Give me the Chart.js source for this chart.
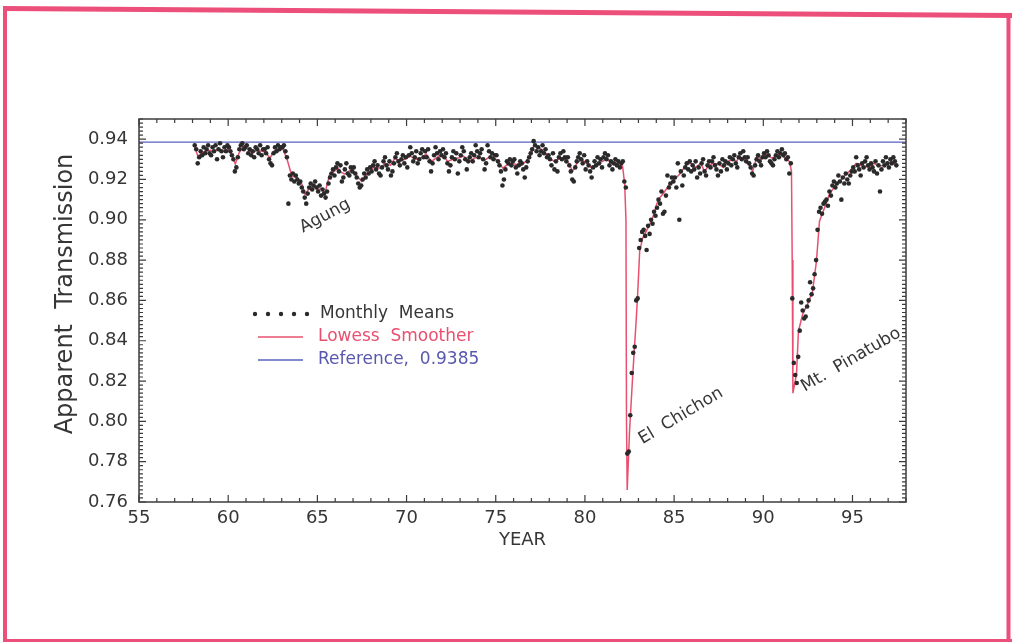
<!DOCTYPE html>
<html>
<head>
<meta charset="utf-8">
<script src="https://cdn.jsdelivr.net/npm/chart.js@4.4.1/dist/chart.umd.min.js"></script>
<style>
  html, body { margin: 0; padding: 0; background: #fff; }
  #chart { display: block; }
</style>
</head>
<body>
<canvas id="chart" width="1012" height="642"></canvas>
<script>
/*********************************************************************/
/*****************************  Data  ********************************/
/*********************************************************************/
// monthly means, Jan..Dec of each year, one row per year
var means1958to1967 = [
    null, 0.937, 0.935, 0.928, 0.931, 0.934, 0.932, 0.936, 0.933, 0.935, 0.937, 0.933,
    0.932, 0.936, 0.934, 0.937, 0.930, 0.935, 0.938, 0.934, 0.931, 0.936, 0.934, 0.937,
    0.936, 0.934, 0.932, 0.930, 0.924, 0.926, 0.931, 0.935, 0.937, 0.938, 0.935, 0.936,
    0.937, 0.933, 0.935, 0.932, 0.934, 0.931, 0.936, 0.935, 0.933, 0.937, 0.932, 0.935,
    0.935, 0.933, 0.936, 0.930, 0.928, 0.927, 0.933, 0.936, 0.934, 0.937, 0.935, 0.936,
    0.936, 0.937, 0.934, 0.931, 0.908, 0.922, 0.920, 0.923, 0.919, 0.922, 0.920, 0.918,
    0.919, 0.916, 0.914, 0.911, 0.908, 0.913, 0.916, 0.918, 0.915, 0.917, 0.919, 0.916,
    0.914, 0.917, 0.912, 0.915, 0.913, 0.911, 0.914, 0.918, 0.921, 0.923, 0.925, 0.922,
    0.926, 0.928, 0.924, 0.927, 0.919, 0.921, 0.925, 0.928, 0.923, 0.922, 0.926, 0.924,
    0.926, 0.923, 0.921, 0.918, 0.916, 0.917, 0.920, 0.923, 0.921, 0.925, 0.923, 0.926
];
var means1968to1977 = [
    0.924, 0.927, 0.929, 0.925, 0.927, 0.923, 0.922, 0.926, 0.929, 0.931, 0.927, 0.925,
    0.929, 0.922, 0.924, 0.928, 0.931, 0.933, 0.929, 0.927, 0.930, 0.932, 0.928, 0.931,
    0.926, 0.932, 0.936, 0.933, 0.929, 0.931, 0.934, 0.928, 0.930, 0.933, 0.935, 0.931,
    0.934, 0.931, 0.935, 0.929, 0.924, 0.928, 0.932, 0.936, 0.933, 0.930, 0.934, 0.932,
    0.935, 0.931, 0.933, 0.928, 0.924, 0.927, 0.931, 0.934, 0.930, 0.933, 0.923, 0.929,
    0.932, 0.936, 0.934, 0.930, 0.925, 0.929, 0.931, 0.933, 0.929, 0.932, 0.937, 0.934,
    0.931, 0.933, 0.935, 0.930, 0.925, 0.928, 0.937, 0.934, 0.931, 0.933, 0.930, 0.932,
    0.932, 0.929, 0.927, 0.924, 0.917, 0.920, 0.925, 0.929, 0.928, 0.930, 0.927, 0.929,
    0.930, 0.926, 0.923, 0.927, 0.929, 0.928, 0.925, 0.921, 0.926, 0.929, 0.931, 0.933,
    0.935, 0.939, 0.937, 0.934, 0.936, 0.932, 0.934, 0.937, 0.933, 0.935, 0.931, 0.932
];
var means1978to1987 = [
    0.930, 0.927, 0.933, 0.925, 0.929, 0.924, 0.931, 0.933, 0.930, 0.934, 0.931, 0.929,
    0.931, 0.927, 0.924, 0.920, 0.919, 0.926, 0.929, 0.931, 0.933, 0.930, 0.928, 0.932,
    0.925, 0.929, 0.927, 0.924, 0.921, 0.926, 0.929, 0.927, 0.931, 0.928, 0.930, 0.926,
    0.931, 0.933, 0.930, 0.932, 0.927, 0.929, 0.925, 0.928, 0.930, 0.927, 0.929, 0.926,
    0.928, 0.929, 0.919, 0.916, 0.784, 0.785, 0.803, 0.824, 0.834, 0.837, 0.860, 0.861,
    0.886, 0.890, 0.894, 0.895, 0.892, 0.885, 0.897, 0.893, 0.900, 0.898, 0.904, 0.902,
    0.906, 0.910, 0.908, 0.914, 0.903, 0.904, 0.912, 0.922, 0.916, 0.918, 0.921, 0.919,
    0.921, 0.916, 0.928, 0.900, 0.924, 0.917, 0.922, 0.926, 0.928, 0.925, 0.929, 0.924,
    0.927, 0.925, 0.929, 0.921, 0.926, 0.923, 0.928, 0.930, 0.924, 0.922, 0.927, 0.929,
    0.926, 0.929, 0.931, 0.927, 0.925, 0.922, 0.928, 0.924, 0.930, 0.927, 0.929, 0.925
];
var means1988to1997 = [
    0.928, 0.931, 0.927, 0.930, 0.932, 0.928, 0.926, 0.931, 0.933, 0.930, 0.934, 0.931,
    0.929, 0.931, 0.928, 0.926, 0.923, 0.922, 0.927, 0.930, 0.932, 0.929, 0.927, 0.931,
    0.933, 0.931, 0.934, 0.932, 0.929, 0.928, 0.927, 0.930, 0.932, 0.934, 0.931, 0.933,
    0.935, 0.932, 0.933, 0.930, 0.931, 0.923, 0.928, 0.861, 0.829, 0.823, 0.819, 0.832,
    0.845, 0.859, 0.855, 0.851, 0.852, 0.857, 0.860, 0.869, 0.863, 0.866, 0.873, 0.880,
    0.895, 0.904, 0.906, 0.903, 0.908, 0.909, 0.910, 0.907, 0.914, 0.912, 0.917, 0.919,
    0.916, 0.918, 0.922, 0.919, 0.910, 0.921, 0.918, 0.923, 0.920, 0.918, 0.922, 0.924,
    0.926, 0.924, 0.931, 0.927, 0.925, 0.922, 0.928, 0.926, 0.929, 0.931, 0.927, 0.925,
    0.928, 0.926, 0.924, 0.929, 0.923, 0.927, 0.914, 0.925, 0.929, 0.927, 0.931, 0.928,
    0.926, 0.930, 0.928, 0.931, 0.929, 0.927
];

// lowess smoother, [year (19xx), transmission]
var lowessCurve = [
    [58.10, 0.9365], [58.30, 0.9316], [58.50, 0.9330], [58.70, 0.9340], [59.00, 0.9345],
    [59.20, 0.9335], [59.45, 0.9355], [59.70, 0.9340], [60.00, 0.9350], [60.20, 0.9320],
    [60.40, 0.9276], [60.60, 0.9330], [60.85, 0.9365], [61.10, 0.9350], [61.35, 0.9330],
    [61.60, 0.9345], [61.90, 0.9340], [62.10, 0.9335], [62.35, 0.9306], [62.55, 0.9340],
    [62.75, 0.9350], [63.07, 0.9350], [63.30, 0.9300], [63.57, 0.9217], [63.85, 0.9210],
    [64.13, 0.9177], [64.30, 0.9127], [64.50, 0.9150], [64.70, 0.9167], [65.03, 0.9150],
    [65.25, 0.9155], [65.42, 0.9130], [65.70, 0.9230], [65.95, 0.9240], [66.15, 0.9256],
    [66.35, 0.9235], [66.54, 0.9226], [66.75, 0.9240], [66.93, 0.9250], [67.20, 0.9220],
    [67.49, 0.9190], [67.70, 0.9220], [67.94, 0.9240], [68.15, 0.9260], [68.50, 0.9256],
    [68.80, 0.9280], [69.10, 0.9270], [69.35, 0.9306], [69.60, 0.9290], [69.90, 0.9300],
    [70.20, 0.9316], [70.50, 0.9300], [70.80, 0.9306], [71.10, 0.9326], [71.40, 0.9290],
    [71.70, 0.9310], [72.00, 0.9326], [72.30, 0.9290], [72.60, 0.9300], [72.90, 0.9306],
    [73.20, 0.9316], [73.50, 0.9290], [73.80, 0.9306], [74.10, 0.9310], [74.40, 0.9296],
    [74.70, 0.9316], [75.00, 0.9300], [75.20, 0.9280], [75.40, 0.9256], [75.60, 0.9270],
    [75.80, 0.9280], [76.10, 0.9276], [76.40, 0.9270], [76.70, 0.9290], [77.00, 0.9326],
    [77.15, 0.9375], [77.30, 0.9360], [77.55, 0.9350], [77.80, 0.9330], [78.10, 0.9300],
    [78.30, 0.9290], [78.60, 0.9305], [78.87, 0.9300], [79.10, 0.9280], [79.31, 0.9240],
    [79.55, 0.9280], [79.82, 0.9300], [80.10, 0.9280], [80.38, 0.9256], [80.55, 0.9270],
    [80.71, 0.9280], [81.00, 0.9290], [81.22, 0.9306], [81.40, 0.9290], [81.55, 0.9276],
    [81.80, 0.9280], [81.95, 0.9276], [82.11, 0.9266], [82.23, 0.9177], [82.30, 0.9000],
    [82.33, 0.8000], [82.37, 0.7660], [82.50, 0.7950], [82.68, 0.8230], [82.87, 0.8497],
    [82.95, 0.8620], [83.07, 0.8845], [83.24, 0.8910], [83.45, 0.8945], [83.63, 0.8978],
    [83.80, 0.9010], [84.02, 0.9077], [84.20, 0.9110], [84.36, 0.9127], [84.55, 0.9150],
    [84.75, 0.9177], [85.00, 0.9200], [85.31, 0.9226], [85.50, 0.9250], [85.70, 0.9276],
    [85.95, 0.9280], [86.20, 0.9260], [86.50, 0.9280], [86.70, 0.9240], [86.95, 0.9270],
    [87.20, 0.9280], [87.50, 0.9276], [87.75, 0.9260], [88.00, 0.9290], [88.30, 0.9300],
    [88.50, 0.9290], [88.67, 0.9316], [88.90, 0.9300], [89.15, 0.9280], [89.40, 0.9240],
    [89.65, 0.9316], [89.90, 0.9300], [90.10, 0.9330], [90.30, 0.9316], [90.50, 0.9306],
    [90.75, 0.9320], [91.00, 0.9330], [91.20, 0.9306], [91.47, 0.9290], [91.58, 0.9240],
    [91.62, 0.8800], [91.66, 0.8140], [91.86, 0.8234], [91.97, 0.8447], [92.20, 0.8530],
    [92.48, 0.8581], [92.76, 0.8645], [92.98, 0.8795], [93.15, 0.8993], [93.43, 0.9058],
    [93.71, 0.9127], [94.10, 0.9177], [94.44, 0.9206], [94.70, 0.9230], [95.00, 0.9256],
    [95.20, 0.9280], [95.39, 0.9276], [95.60, 0.9260], [95.95, 0.9266], [96.20, 0.9280],
    [96.51, 0.9266], [96.70, 0.9270], [96.90, 0.9276], [97.20, 0.9290], [97.46, 0.9266]
];

var referenceValue = 0.9385;
var xTickValues = [55, 60, 65, 70, 75, 80, 85, 90, 95];
var yTickValues = [0.76, 0.78, 0.80, 0.82, 0.84, 0.86, 0.88, 0.90, 0.92, 0.94];
var legendLabels = ['Monthly  Means', 'Lowess  Smoother', 'Reference,  0.9385'];
var volcanoLabels = ['Agung', 'El  Chichon', 'Mt.  Pinatubo'];

/*********************************************************************/
var FONT = "'DejaVu Sans', sans-serif";
var TEXT = '#363636';
var RED = '#e9506f';
var BLUE = '#5a62c2';

function monthlyPoints(firstYear, values) {
    var pts = [];
    for (i = 0; i < values.length; i++) {
        if (values[i] === null) continue;
        pts.push({x: firstYear - 1900 + (i + 0.5) / 12, y: values[i]});
    }
    return pts;
}

var meanPoints = [].concat(
    monthlyPoints(1958, means1958to1967),
    monthlyPoints(1968, means1968to1977),
    monthlyPoints(1978, means1978to1987),
    monthlyPoints(1988, means1988to1997)
);
var lowessPoints = lowessCurve.map(function(p) { return {x: p[0], y: p[1]}; });

/****************************  Decorations  **************************/
var decor = {
    id: 'decor',
    beforeDraw: function(chart) {
        var ctx = chart.ctx;
        ctx.save();
        ctx.fillStyle = '#fff';
        ctx.fillRect(0, 0, chart.width, chart.height);
        // pink page border
        ctx.strokeStyle = '#ec4f7a';
        ctx.lineWidth = 5;
        ctx.beginPath(); ctx.moveTo(3, 8.5); ctx.lineTo(1012, 15.5); ctx.stroke();
        ctx.lineWidth = 4;
        ctx.beginPath(); ctx.moveTo(5, 7); ctx.lineTo(5, 642); ctx.stroke();
        ctx.beginPath(); ctx.moveTo(1008.5, 13); ctx.lineTo(1008.5, 642); ctx.stroke();
        ctx.lineWidth = 3;
        ctx.beginPath(); ctx.moveTo(3, 640.5); ctx.lineTo(1012, 640.5); ctx.stroke();
        ctx.restore();
    },
    afterDatasetsDraw: function(chart) {
        var ctx = chart.ctx, a = chart.chartArea;
        var xs = chart.scales.x, ys = chart.scales.y;
        ctx.save();
        ctx.strokeStyle = '#3c3c3c';
        ctx.lineWidth = 1.5;
        ctx.strokeRect(a.left, a.top, a.right - a.left, a.bottom - a.top);
        ctx.lineWidth = 1.2;
        ctx.beginPath();
        // year ticks, inward on top and bottom
        for (var yr = 55; yr <= 98; yr++) {
            var px = xs.getPixelForValue(yr);
            var len = yr % 5 === 0 ? 7 : 4;
            ctx.moveTo(px, a.bottom); ctx.lineTo(px, a.bottom - len);
            ctx.moveTo(px, a.top); ctx.lineTo(px, a.top + len);
        }
        // 0.002 ticks, inward on left and right
        for (var k = 380; k <= 475; k++) {
            var py = ys.getPixelForValue(k / 500);
            var l2 = k % 10 === 0 ? 7 : 4;
            ctx.moveTo(a.left, py); ctx.lineTo(a.left + l2, py);
            ctx.moveTo(a.right, py); ctx.lineTo(a.right - l2, py);
        }
        ctx.stroke();
        ctx.restore();
    },
    afterDraw: function(chart) {
        var ctx = chart.ctx;
        ctx.save();
        // y axis title
        ctx.fillStyle = TEXT;
        ctx.font = '24px ' + FONT;
        ctx.textAlign = 'center';
        ctx.textBaseline = 'middle';
        ctx.translate(66, 294);
        ctx.rotate(-Math.PI / 2);
        ctx.fillText('Apparent  Transmission', 0, 0);
        ctx.restore();

        // legend
        ctx.save();
        ctx.font = '17px ' + FONT;
        ctx.textAlign = 'left';
        ctx.textBaseline = 'middle';
        ctx.fillStyle = '#2a2a2a';
        for (var d = 0; d < 5; d++) {
            ctx.beginPath();
            ctx.arc(255 + d * 13, 314, 2.2, 0, Math.PI * 2);
            ctx.fill();
        }
        ctx.fillStyle = TEXT;
        ctx.fillText(legendLabels[0], 320, 314);
        ctx.lineWidth = 1.5;
        ctx.strokeStyle = RED;
        ctx.beginPath(); ctx.moveTo(258, 337); ctx.lineTo(303, 337); ctx.stroke();
        ctx.fillStyle = RED;
        ctx.fillText(legendLabels[1], 318, 337);
        ctx.strokeStyle = BLUE;
        ctx.beginPath(); ctx.moveTo(258, 360); ctx.lineTo(303, 360); ctx.stroke();
        ctx.fillStyle = '#5858ae';
        ctx.fillText(legendLabels[2], 318, 360);
        ctx.restore();

        // volcano names
        var spots = [[325, 216, -28], [681, 416, -31], [851, 360, -30]];
        for (var v = 0; v < volcanoLabels.length; v++) {
            ctx.save();
            ctx.font = '17px ' + FONT;
            ctx.fillStyle = TEXT;
            ctx.textAlign = 'center';
            ctx.textBaseline = 'middle';
            ctx.translate(spots[v][0], spots[v][1]);
            ctx.rotate(spots[v][2] * Math.PI / 180);
            ctx.fillText(volcanoLabels[v], 0, 0);
            ctx.restore();
        }
    }
};

/****************************  Chart  ********************************/
var ctx = document.getElementById('chart');
var transmissionChart = new Chart(ctx, {
    type: 'scatter',
    data: {
        datasets: [{
            label: 'Monthly Means',
            data: meanPoints,
            backgroundColor: '#2a2a2a',
            borderColor: '#2a2a2a',
            pointRadius: 2.3,
            pointBorderWidth: 0,
            showLine: false
        }, {
            label: 'Lowess Smoother',
            data: lowessPoints,
            borderColor: RED,
            borderWidth: 1.5,
            pointRadius: 0,
            showLine: true,
            tension: 0
        }, {
            label: 'Reference, 0.9385',
            data: [{x: 55, y: referenceValue}, {x: 98, y: referenceValue}],
            borderColor: BLUE,
            borderWidth: 1.3,
            pointRadius: 0,
            showLine: true
        }]
    },
    options: {
        responsive: false,
        animation: false,
        devicePixelRatio: 1,
        layout: { padding: { left: 0, top: 119, right: 106, bottom: 0 } },
        plugins: {
            legend: { display: false },
            tooltip: { enabled: false }
        },
        scales: {
            x: {
                type: 'linear',
                min: 55,
                max: 98,
                grid: { display: false, drawTicks: false },
                border: { display: false },
                afterBuildTicks: function(scale) {
                    scale.ticks = xTickValues.map(function(v) { return {value: v}; });
                },
                afterFit: function(scale) { scale.height = 140; },
                ticks: {
                    padding: 6,
                    color: TEXT,
                    font: { family: FONT, size: 18 },
                    maxRotation: 0,
                    callback: function(v) { return String(v); }
                },
                title: {
                    display: true,
                    text: 'YEAR',
                    color: TEXT,
                    font: { family: FONT, size: 18 },
                    padding: { top: 0, bottom: 91 }
                }
            },
            y: {
                type: 'linear',
                min: 0.76,
                max: 0.95,
                grid: { display: false, drawTicks: false },
                border: { display: false },
                afterBuildTicks: function(scale) {
                    scale.ticks = yTickValues.map(function(v) { return {value: v}; });
                },
                afterFit: function(scale) { scale.width = 139; },
                ticks: {
                    padding: 11,
                    color: TEXT,
                    font: { family: FONT, size: 18 },
                    callback: function(v) { return v.toFixed(2); }
                }
            }
        }
    },
    plugins: [decor]
});
</script>
</body>
</html>
